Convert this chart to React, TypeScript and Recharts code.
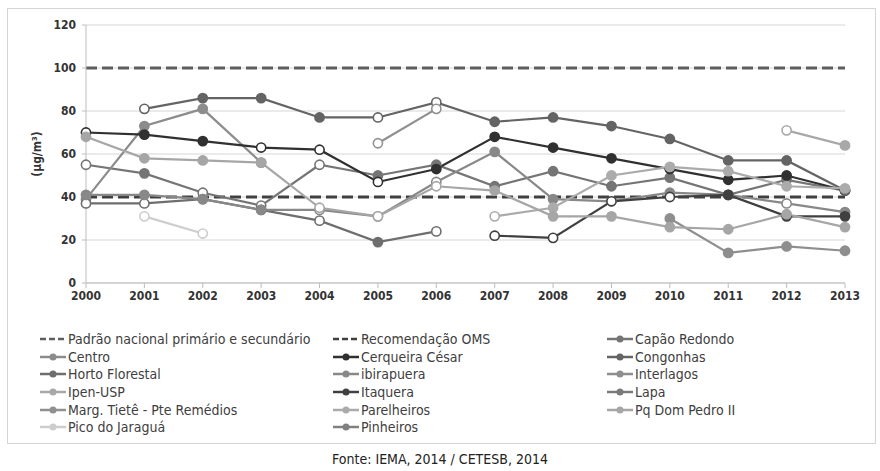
import React from 'react';
import { LineChart, Line, XAxis, YAxis, CartesianGrid } from 'recharts';

const years = [2000, 2001, 2002, 2003, 2004, 2005, 2006, 2007, 2008, 2009, 2010, 2011, 2012, 2013];
const yTicks = [0, 20, 40, 60, 80, 100, 120];

// reference levels
const padraoNacional = [100, 100, 100, 100, 100, 100, 100, 100, 100, 100, 100, 100, 100, 100];
const recomendacaoOMS = [40, 40, 40, 40, 40, 40, 40, 40, 40, 40, 40, 40, 40, 40];

// station annual means (µg/m³), null = no data
const capaoRedondo = [55, 51, 42, 36, 55, 50, 55, 45, 52, 45, 49, 41, 48, 43];
const centro = [39, 73, 81, 56, null, null, null, null, null, null, null, null, null, null];
const cerqueiraCesar = [70, 69, 66, 63, 62, 47, 53, 68, 63, 58, 53, 48, 50, 43];
const congonhas = [null, 81, 86, 86, 77, 77, 84, 75, 77, 73, 67, 57, 57, 43];
const hortoFlorestal = [37, 37, 39, 34, 29, 19, 24, null, null, null, null, null, null, null];
const ibirapuera = [41, 41, 39, 34, 34, 31, 47, 61, 39, 38, 42, 41, 37, 33];
const interlagos = [null, null, null, null, null, null, null, null, null, null, 30, 14, 17, 15];
const ipenUsp = [null, null, null, null, null, null, null, null, null, null, null, null, 71, 64];
const itaquera = [null, null, null, null, null, null, null, 22, 21, 38, 40, 41, 31, 31];
const lapa = [null, null, null, null, null, null, null, null, null, null, null, null, null, null];
const margTiete = [null, null, null, null, null, 65, 81, null, null, null, null, null, null, null];
const parelheiros = [null, null, null, null, null, null, null, 31, 35, 50, 54, 52, 45, 44];
const pqDomPedro = [68, 58, 57, 56, 35, 31, 45, 43, 31, 31, 26, 25, 32, 26];
const picoJaragua = [null, 31, 23, null, null, null, null, null, null, null, null, null, null, null];
const pinheiros = [null, null, null, null, null, null, null, null, null, null, null, null, null, null];

// indices of points drawn as hollow markers
const capaoRedondoOpen = [0, 2, 3, 4];
const cerqueiraCesarOpen = [0, 3, 4, 5];
const congonhasOpen = [1, 5, 6];
const hortoFlorestalOpen = [0, 1, 4, 6];
const ibirapueraOpen = [4, 5, 6, 12];
const ipenUspOpen = [12];
const itaqueraOpen = [7, 8, 9, 10];
const margTieteOpen = [5, 6];
const parelheirosOpen = [7];
const pqDomPedroOpen = [4, 5, 6];
const picoJaraguaOpen = [1, 2];

type S = { key: string; name: string; color: string; values: (number | null)[]; open?: number[]; dashed?: boolean };

const series: S[] = [
  { key: 'pn', name: 'Padrão nacional primário e secundário', color: '#5e5e5e', values: padraoNacional, dashed: true },
  { key: 'oms', name: 'Recomendação OMS', color: '#404040', values: recomendacaoOMS, dashed: true },
  { key: 'cr', name: 'Capão Redondo', color: '#757575', values: capaoRedondo, open: capaoRedondoOpen },
  { key: 'ce', name: 'Centro', color: '#8c8c8c', values: centro },
  { key: 'cc', name: 'Cerqueira César', color: '#303030', values: cerqueiraCesar, open: cerqueiraCesarOpen },
  { key: 'co', name: 'Congonhas', color: '#646464', values: congonhas, open: congonhasOpen },
  { key: 'hf', name: 'Horto Florestal', color: '#6e6e6e', values: hortoFlorestal, open: hortoFlorestalOpen },
  { key: 'ib', name: 'ibirapuera', color: '#888888', values: ibirapuera, open: ibirapueraOpen },
  { key: 'in', name: 'Interlagos', color: '#8e8e8e', values: interlagos },
  { key: 'ip', name: 'Ipen-USP', color: '#a8a8a8', values: ipenUsp, open: ipenUspOpen },
  { key: 'it', name: 'Itaquera', color: '#404040', values: itaquera, open: itaqueraOpen },
  { key: 'la', name: 'Lapa', color: '#7a7a7a', values: lapa },
  { key: 'mt', name: 'Marg. Tietê - Pte Remédios', color: '#909090', values: margTiete, open: margTieteOpen },
  { key: 'pa', name: 'Parelheiros', color: '#ababab', values: parelheiros, open: parelheirosOpen },
  { key: 'pd', name: 'Pq Dom Pedro II', color: '#a6a6a6', values: pqDomPedro, open: pqDomPedroOpen },
  { key: 'pj', name: 'Pico do Jaraguá', color: '#cdcdcd', values: picoJaragua, open: picoJaraguaOpen },
  { key: 'pi', name: 'Pinheiros', color: '#808080', values: pinheiros },
];

const data = years.map((y, i) => {
  const row: Record<string, number | null> = { year: y };
  series.forEach((s) => {
    row[s.key] = s.values[i];
  });
  return row;
});

const FONT = "'Liberation Sans Narrow', 'DejaVu Sans Condensed', 'Open Sans', sans-serif";

function makeDot(s: S) {
  return (props: any) => {
    const { cx, cy, index } = props;
    if (cx == null || cy == null || s.values[index] == null) return <g key={`${s.key}-${index}`} />;
    const isOpen = s.open ? s.open.includes(index) : false;
    return (
      <circle
        key={`${s.key}-${index}`}
        cx={cx}
        cy={cy}
        r={4.6}
        fill={isOpen ? '#ffffff' : s.color}
        stroke={s.color}
        strokeWidth={1.6}
      />
    );
  };
}

const colX = [40, 333, 607];
const rowY = [339, 357, 374, 392, 410, 427];

function LegendIcon({ s }: { s: S }) {
  if (s.dashed) {
    return (
      <svg width={26} height={10} style={{ display: 'block' }}>
        <line x1={0} y1={5} x2={26} y2={5} stroke={s.color} strokeWidth={2.5} strokeDasharray="6 3" />
      </svg>
    );
  }
  return (
    <svg width={26} height={10} style={{ display: 'block' }}>
      <line x1={0} y1={5} x2={26} y2={5} stroke={s.color} strokeWidth={2.5} />
      <circle cx={13} cy={5} r={3.5} fill={s.color} />
    </svg>
  );
}

export default function App() {
  return (
    <div style={{ position: 'absolute', left: 0, top: 0, width: 880, height: 471, background: '#fff', fontFamily: FONT }}>
      <div style={{ position: 'absolute', left: 7, top: 8, width: 869, height: 436, border: '1px solid #d4d4d4', boxSizing: 'border-box' }} />
      <div style={{ position: 'absolute', left: 0, top: 0 }}>
        <LineChart width={880} height={330} data={data} margin={{ top: 25, right: 35, left: 0, bottom: 17 }}>
          <CartesianGrid horizontal={true} vertical={false} stroke="#d6d6d6" strokeWidth={1} />
          <XAxis
            dataKey="year"
            type="number"
            domain={[2000, 2013]}
            ticks={years}
            interval={0}
            height={30}
            axisLine={{ stroke: '#bdbdbd' }}
            tickLine={{ stroke: '#bdbdbd' }}
            tickSize={5}
            tickMargin={3}
            tick={{ fontSize: 12, fill: '#333', fontWeight: 700, fontFamily: FONT }}
          />
          <YAxis
            type="number"
            domain={[0, 120]}
            ticks={yTicks}
            width={86}
            axisLine={{ stroke: '#bdbdbd' }}
            tickLine={{ stroke: '#bdbdbd' }}
            tickSize={4}
            tickMargin={6}
            tick={{ fontSize: 12, fill: '#333', fontWeight: 700, fontFamily: FONT }}
          />
          {series.map((s) =>
            s.dashed ? (
              <Line
                key={s.key}
                dataKey={s.key}
                name={s.name}
                stroke={s.color}
                strokeWidth={2.8}
                strokeDasharray="11 5"
                dot={false}
                activeDot={false}
                isAnimationActive={false}
                type="linear"
              />
            ) : (
              <Line
                key={s.key}
                dataKey={s.key}
                name={s.name}
                stroke={s.color}
                strokeWidth={2.2}
                dot={makeDot(s)}
                activeDot={false}
                isAnimationActive={false}
                type="linear"
              />
            )
          )}
        </LineChart>
      </div>
      <div
        style={{
          position: 'absolute',
          left: 37 - 40,
          top: 154 - 8,
          width: 80,
          textAlign: 'center',
          transform: 'rotate(-90deg)',
          fontSize: 12,
          fontWeight: 700,
          color: '#333',
          lineHeight: '16px',
        }}
      >
        (µg/m³)
      </div>
      {series.map((s, i) => (
        <div
          key={s.key}
          style={{
            position: 'absolute',
            left: colX[i % 3],
            top: rowY[Math.floor(i / 3)] - 8,
            height: 16,
            display: 'flex',
            alignItems: 'center',
            whiteSpace: 'nowrap',
            fontSize: 14,
            color: '#404040',
          }}
        >
          <LegendIcon s={s} />
          <span style={{ marginLeft: 2 }}>{s.name}</span>
        </div>
      ))}
      <div style={{ position: 'absolute', left: 0, top: 451, width: 880, textAlign: 'center', fontSize: 14, color: '#222' }}>
        Fonte: IEMA, 2014 / CETESB, 2014
      </div>
    </div>
  );
}
